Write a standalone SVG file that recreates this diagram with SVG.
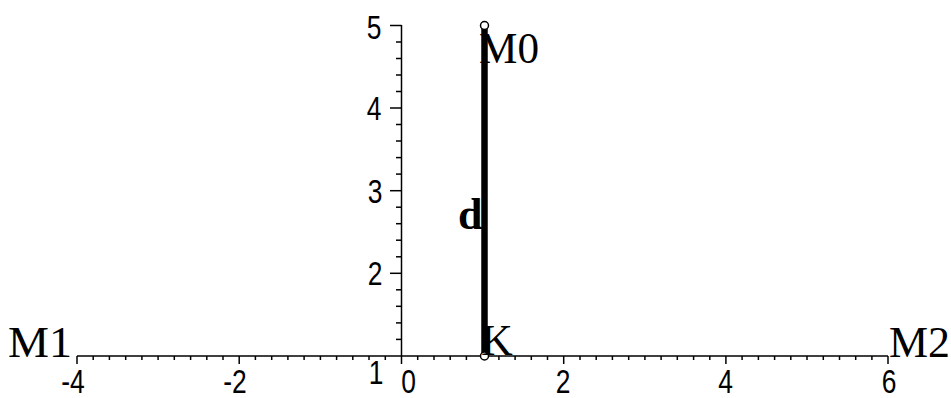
<svg xmlns="http://www.w3.org/2000/svg" width="951" height="398" viewBox="0 0 951 398">
  <style>
    .ax { stroke: #000; stroke-width: 1.5; fill: none; }
    .tk { stroke: #000; stroke-width: 1.5; }
    .num { font-family: "Liberation Sans", Arial, sans-serif; font-size: 33px; fill: #000; }
    .lbl { font-family: "Liberation Serif", "Times New Roman", serif; font-size: 44px; fill: #000; }
    .bold { font-family: "Liberation Serif", "Times New Roman", serif; font-size: 44px; font-weight: bold; fill: #000; }
    .pt { fill: #fff; stroke: #000; stroke-width: 1.5; }
  </style>
  <rect width="951" height="398" fill="#fff"/>

  <g id="axes">
    <line class="ax" x1="77" y1="356" x2="888" y2="356"/>
    <line class="ax" x1="401.5" y1="25" x2="401.5" y2="356"/>
    <!-- x major ticks -->
    <g class="tk">
      <line x1="77" y1="356" x2="77" y2="364"/>
      <line x1="239.2" y1="356" x2="239.2" y2="364"/>
      <line x1="401.5" y1="356" x2="401.5" y2="364"/>
      <line x1="563.7" y1="356" x2="563.7" y2="364"/>
      <line x1="725.9" y1="356" x2="725.9" y2="364"/>
      <line x1="888" y1="356" x2="888" y2="364"/>
    </g>
    <!-- x minor ticks -->
    <g class="tk">
      <line x1="93.2" y1="356" x2="93.2" y2="360"/>
      <line x1="109.4" y1="356" x2="109.4" y2="360"/>
      <line x1="125.7" y1="356" x2="125.7" y2="360"/>
      <line x1="141.9" y1="356" x2="141.9" y2="360"/>
      <line x1="158.1" y1="356" x2="158.1" y2="360"/>
      <line x1="174.3" y1="356" x2="174.3" y2="360"/>
      <line x1="190.6" y1="356" x2="190.6" y2="360"/>
      <line x1="206.8" y1="356" x2="206.8" y2="360"/>
      <line x1="223.0" y1="356" x2="223.0" y2="360"/>
      <line x1="255.4" y1="356" x2="255.4" y2="360"/>
      <line x1="271.7" y1="356" x2="271.7" y2="360"/>
      <line x1="287.9" y1="356" x2="287.9" y2="360"/>
      <line x1="304.1" y1="356" x2="304.1" y2="360"/>
      <line x1="320.4" y1="356" x2="320.4" y2="360"/>
      <line x1="336.6" y1="356" x2="336.6" y2="360"/>
      <line x1="352.8" y1="356" x2="352.8" y2="360"/>
      <line x1="369.0" y1="356" x2="369.0" y2="360"/>
      <line x1="385.3" y1="356" x2="385.3" y2="360"/>
      <line x1="417.7" y1="356" x2="417.7" y2="360"/>
      <line x1="434.0" y1="356" x2="434.0" y2="360"/>
      <line x1="450.2" y1="356" x2="450.2" y2="360"/>
      <line x1="466.4" y1="356" x2="466.4" y2="360"/>
      <line x1="498.9" y1="356" x2="498.9" y2="360"/>
      <line x1="515.1" y1="356" x2="515.1" y2="360"/>
      <line x1="531.3" y1="356" x2="531.3" y2="360"/>
      <line x1="547.5" y1="356" x2="547.5" y2="360"/>
      <line x1="580.0" y1="356" x2="580.0" y2="360"/>
      <line x1="596.2" y1="356" x2="596.2" y2="360"/>
      <line x1="612.4" y1="356" x2="612.4" y2="360"/>
      <line x1="628.7" y1="356" x2="628.7" y2="360"/>
      <line x1="644.9" y1="356" x2="644.9" y2="360"/>
      <line x1="661.1" y1="356" x2="661.1" y2="360"/>
      <line x1="677.3" y1="356" x2="677.3" y2="360"/>
      <line x1="693.6" y1="356" x2="693.6" y2="360"/>
      <line x1="709.8" y1="356" x2="709.8" y2="360"/>
      <line x1="742.1" y1="356" x2="742.1" y2="360"/>
      <line x1="758.4" y1="356" x2="758.4" y2="360"/>
      <line x1="774.6" y1="356" x2="774.6" y2="360"/>
      <line x1="790.8" y1="356" x2="790.8" y2="360"/>
      <line x1="807.0" y1="356" x2="807.0" y2="360"/>
      <line x1="823.3" y1="356" x2="823.3" y2="360"/>
      <line x1="839.5" y1="356" x2="839.5" y2="360"/>
      <line x1="855.7" y1="356" x2="855.7" y2="360"/>
      <line x1="871.9" y1="356" x2="871.9" y2="360"/>
    </g>
    <!-- y major ticks -->
    <g class="tk">
      <line x1="390" y1="25.5" x2="401.5" y2="25.5"/>
      <line x1="390" y1="108" x2="401.5" y2="108"/>
      <line x1="390" y1="190.7" x2="401.5" y2="190.7"/>
      <line x1="390" y1="273.3" x2="401.5" y2="273.3"/>
    </g>
    <!-- y minor ticks -->
    <g class="tk">
      <line x1="396" y1="42" x2="401.5" y2="42"/>
      <line x1="396" y1="58.5" x2="401.5" y2="58.5"/>
      <line x1="396" y1="75" x2="401.5" y2="75"/>
      <line x1="396" y1="91.5" x2="401.5" y2="91.5"/>
      <line x1="396" y1="124.5" x2="401.5" y2="124.5"/>
      <line x1="396" y1="141" x2="401.5" y2="141"/>
      <line x1="396" y1="157.6" x2="401.5" y2="157.6"/>
      <line x1="396" y1="174.1" x2="401.5" y2="174.1"/>
      <line x1="396" y1="207.2" x2="401.5" y2="207.2"/>
      <line x1="396" y1="223.7" x2="401.5" y2="223.7"/>
      <line x1="396" y1="240.2" x2="401.5" y2="240.2"/>
      <line x1="396" y1="256.8" x2="401.5" y2="256.8"/>
      <line x1="396" y1="289.8" x2="401.5" y2="289.8"/>
      <line x1="396" y1="306.3" x2="401.5" y2="306.3"/>
      <line x1="396" y1="322.9" x2="401.5" y2="322.9"/>
      <line x1="396" y1="339.4" x2="401.5" y2="339.4"/>
    </g>
    <!-- tick labels -->
    <g class="num" text-anchor="middle">
      <text transform="translate(73,393) scale(0.8,1)">-4</text>
      <text transform="translate(235,393) scale(0.8,1)">-2</text>
      <text transform="translate(408.5,393) scale(0.8,1)">0</text>
      <text transform="translate(563,393) scale(0.8,1)">2</text>
      <text transform="translate(725.5,393) scale(0.8,1)">4</text>
      <text transform="translate(889,393) scale(0.8,1)">6</text>
      <text transform="translate(376,384) scale(0.8,1)">1</text>
      <text transform="translate(374,39) scale(0.8,1)">5</text>
      <text transform="translate(374,120) scale(0.8,1)">4</text>
      <text transform="translate(375,203) scale(0.8,1)">3</text>
      <text transform="translate(375,285) scale(0.8,1)">2</text>
    </g>
  </g>

  <g id="connectors">
    <line id="segment-d" x1="484.5" y1="25.5" x2="484.5" y2="356" stroke="#000" stroke-width="6.5"/>
  </g>

  <g id="node-M0">
    <circle class="pt" cx="484.5" cy="25.5" r="4"/>
    <text class="lbl" x="479" y="63" textLength="60" lengthAdjust="spacingAndGlyphs">M0</text>
  </g>
  <g id="node-K">
    <circle class="pt" cx="484.5" cy="356" r="4"/>
    <text class="lbl" x="481" y="355">K</text>
  </g>
  <g id="node-M1">
    <text class="lbl" x="8" y="357" textLength="64" lengthAdjust="spacingAndGlyphs">M1</text>
  </g>
  <g id="node-M2">
    <text class="lbl" x="889" y="357" textLength="61" lengthAdjust="spacingAndGlyphs">M2</text>
  </g>
  <g id="label-d">
    <text class="bold" x="458" y="229">d</text>
  </g>
</svg>
